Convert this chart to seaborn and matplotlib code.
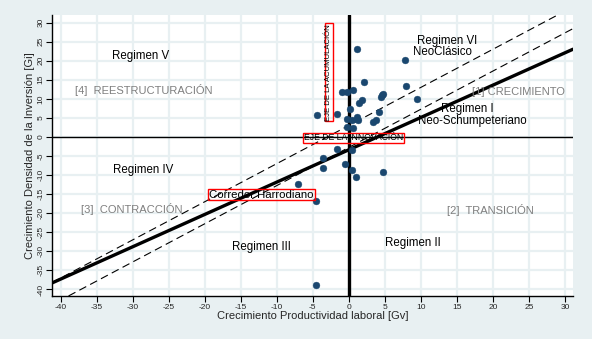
import matplotlib
matplotlib.use("Agg")
import matplotlib.pyplot as plt
import seaborn as sns
import pandas as pd

# ---- data ----
gv = [1.15, 7.8, 2.1, 7.9, -0.9, -0.2, 0.6, 4.8, 4.4, 1.8, 1.4, 9.5,
      -4.4, -1.6, 0.1, 4.2, -0.3, 1.15, 1.3, 3.4, 3.75, 0.5, -0.3, 0.6,
      -1.6, 0.4, -3.6, -3.6, -0.5, 0.4, 1.0, 4.8, -7.0, -4.6, -4.6, 4.6]
gi = [23.1, 20.3, 14.5, 13.4, 11.8, 11.7, 12.4, 11.3, 10.6, 9.6, 9.0, 10.0,
      5.8, 6.0, 7.3, 6.5, 4.7, 5.3, 4.5, 4.0, 4.5, 4.5, 2.5, 2.3,
      -3.2, -3.4, -5.6, -8.1, -7.2, -8.7, -10.4, -9.1, -12.4, -16.8, -38.8, 11.0]

fit_x = [-41.2, 31.1]
fit_y = [-38.3, 23.0]
upper_x = [-41.2, 29.0]
upper_y = [-38.2, 32.0]
lower_x = [-38.9, 31.1]
lower_y = [-41.7, 28.4]

x_ticks = [-40, -35, -30, -25, -20, -15, -10, -5, 0, 5, 10, 15, 20, 25, 30]
y_ticks = [-40, -35, -30, -25, -20, -15, -10, -5, 0, 5, 10, 15, 20, 25, 30]

regime_labels = ["Regimen V", "Regimen IV", "Regimen III", "Regimen II",
                 "Regimen I", "Neo-Schumpeteriano", "Regimen VI", "NeoClásico"]
regime_x = [-28.9, -28.5, -12.2, 8.9, 16.4, 17.1, 13.6, 13.0]
regime_y = [21.1, -8.7, -28.8, -27.8, 7.3, 4.2, 25.2, 22.2]

quad_labels = ["[4]  REESTRUCTURACIÓN", "[3]  CONTRACCIÓN", "[2]  TRANSICIÓN", "[1] CRECIMIENTO"]
quad_x = [-28.4, -30.1, 19.6, 23.6]
quad_y = [12.2, -19.0, -19.2, 11.7]

bg = "#e8f0f2"
navy = "#1a476f"

sns.set_theme(style="white")
plt.rcParams["font.family"] = ["Liberation Sans", "DejaVu Sans"]

fig = plt.figure(figsize=(5.92, 3.39), dpi=100, facecolor=bg)
ax = fig.add_axes([0.0878, 0.127, 0.880, 0.829])
ax.set_facecolor("white")

df = pd.DataFrame({"gv": gv, "gi": gi})

# grid
for t in x_ticks:
    ax.axvline(t, color=bg, lw=1.6, zorder=0)
for t in y_ticks:
    ax.axhline(t, color=bg, lw=1.6, zorder=0)

# axes lines
ax.axhline(0, color="black", lw=1.0, zorder=2)
ax.axvline(0, color="black", lw=2.4, zorder=2)

# fitted and corridor lines
sns.lineplot(x=fit_x, y=fit_y, ax=ax, color="black", lw=2.4, zorder=3)
sns.lineplot(x=upper_x, y=upper_y, ax=ax, color="black", lw=0.8,
             linestyle=(0, (7, 4)), zorder=3)
sns.lineplot(x=lower_x, y=lower_y, ax=ax, color="black", lw=0.8,
             linestyle=(0, (7, 4)), zorder=3)

sns.scatterplot(data=df, x="gv", y="gi", ax=ax, color=navy, s=24,
                edgecolor=navy, linewidth=0.3, zorder=4)

for t, x, y in zip(regime_labels, regime_x, regime_y):
    ax.text(x, y, t, ha="center", va="center", fontsize=8.3, color="black", zorder=5)
for t, x, y in zip(quad_labels, quad_x, quad_y):
    ax.text(x, y, t, ha="center", va="center", fontsize=8, color="#7f7f7f", zorder=5)

box = dict(boxstyle="square,pad=0.08", fc="none", ec="red", lw=1.0)
ax.text(-2.8, 16.9, "EJE DE LA ACUMULACIÓN", rotation=90, ha="center", va="center",
        fontsize=5.6, color="black", bbox=box, zorder=6)
ax.text(0.67, -0.26, "EJE DE LA INNOVACIÓN", ha="center", va="center",
        fontsize=6.2, color="black", bbox=box, zorder=6)
ax.text(-12.1, -15.1, "Corredor Harrodiano", ha="center", va="center",
        fontsize=8.2, color="black", bbox=box, zorder=6)

ax.set_xlim(-41.2, 31.1)
ax.set_ylim(-41.7, 32.0)
ax.set_xticks(x_ticks)
ax.set_yticks(y_ticks)
ax.set_xticklabels([str(v) for v in x_ticks], fontsize=6)
ax.set_yticklabels([str(v) for v in y_ticks], fontsize=6, rotation=90, va="center")
ax.tick_params(axis="both", direction="out", length=4, width=0.8, color="black",
               pad=1.5, bottom=True, left=True)

for s in ["top", "right"]:
    ax.spines[s].set_visible(False)
for s in ["left", "bottom"]:
    ax.spines[s].set_color("black")
    ax.spines[s].set_linewidth(1.0)

ax.set_xlabel("Crecimiento Productividad laboral [Gv]", fontsize=8, labelpad=0)
ax.set_ylabel("Crecimiento Densidad de la Inversión [Gi]", fontsize=8, labelpad=2)

fig.savefig("out.png", dpi=100, facecolor=bg)
